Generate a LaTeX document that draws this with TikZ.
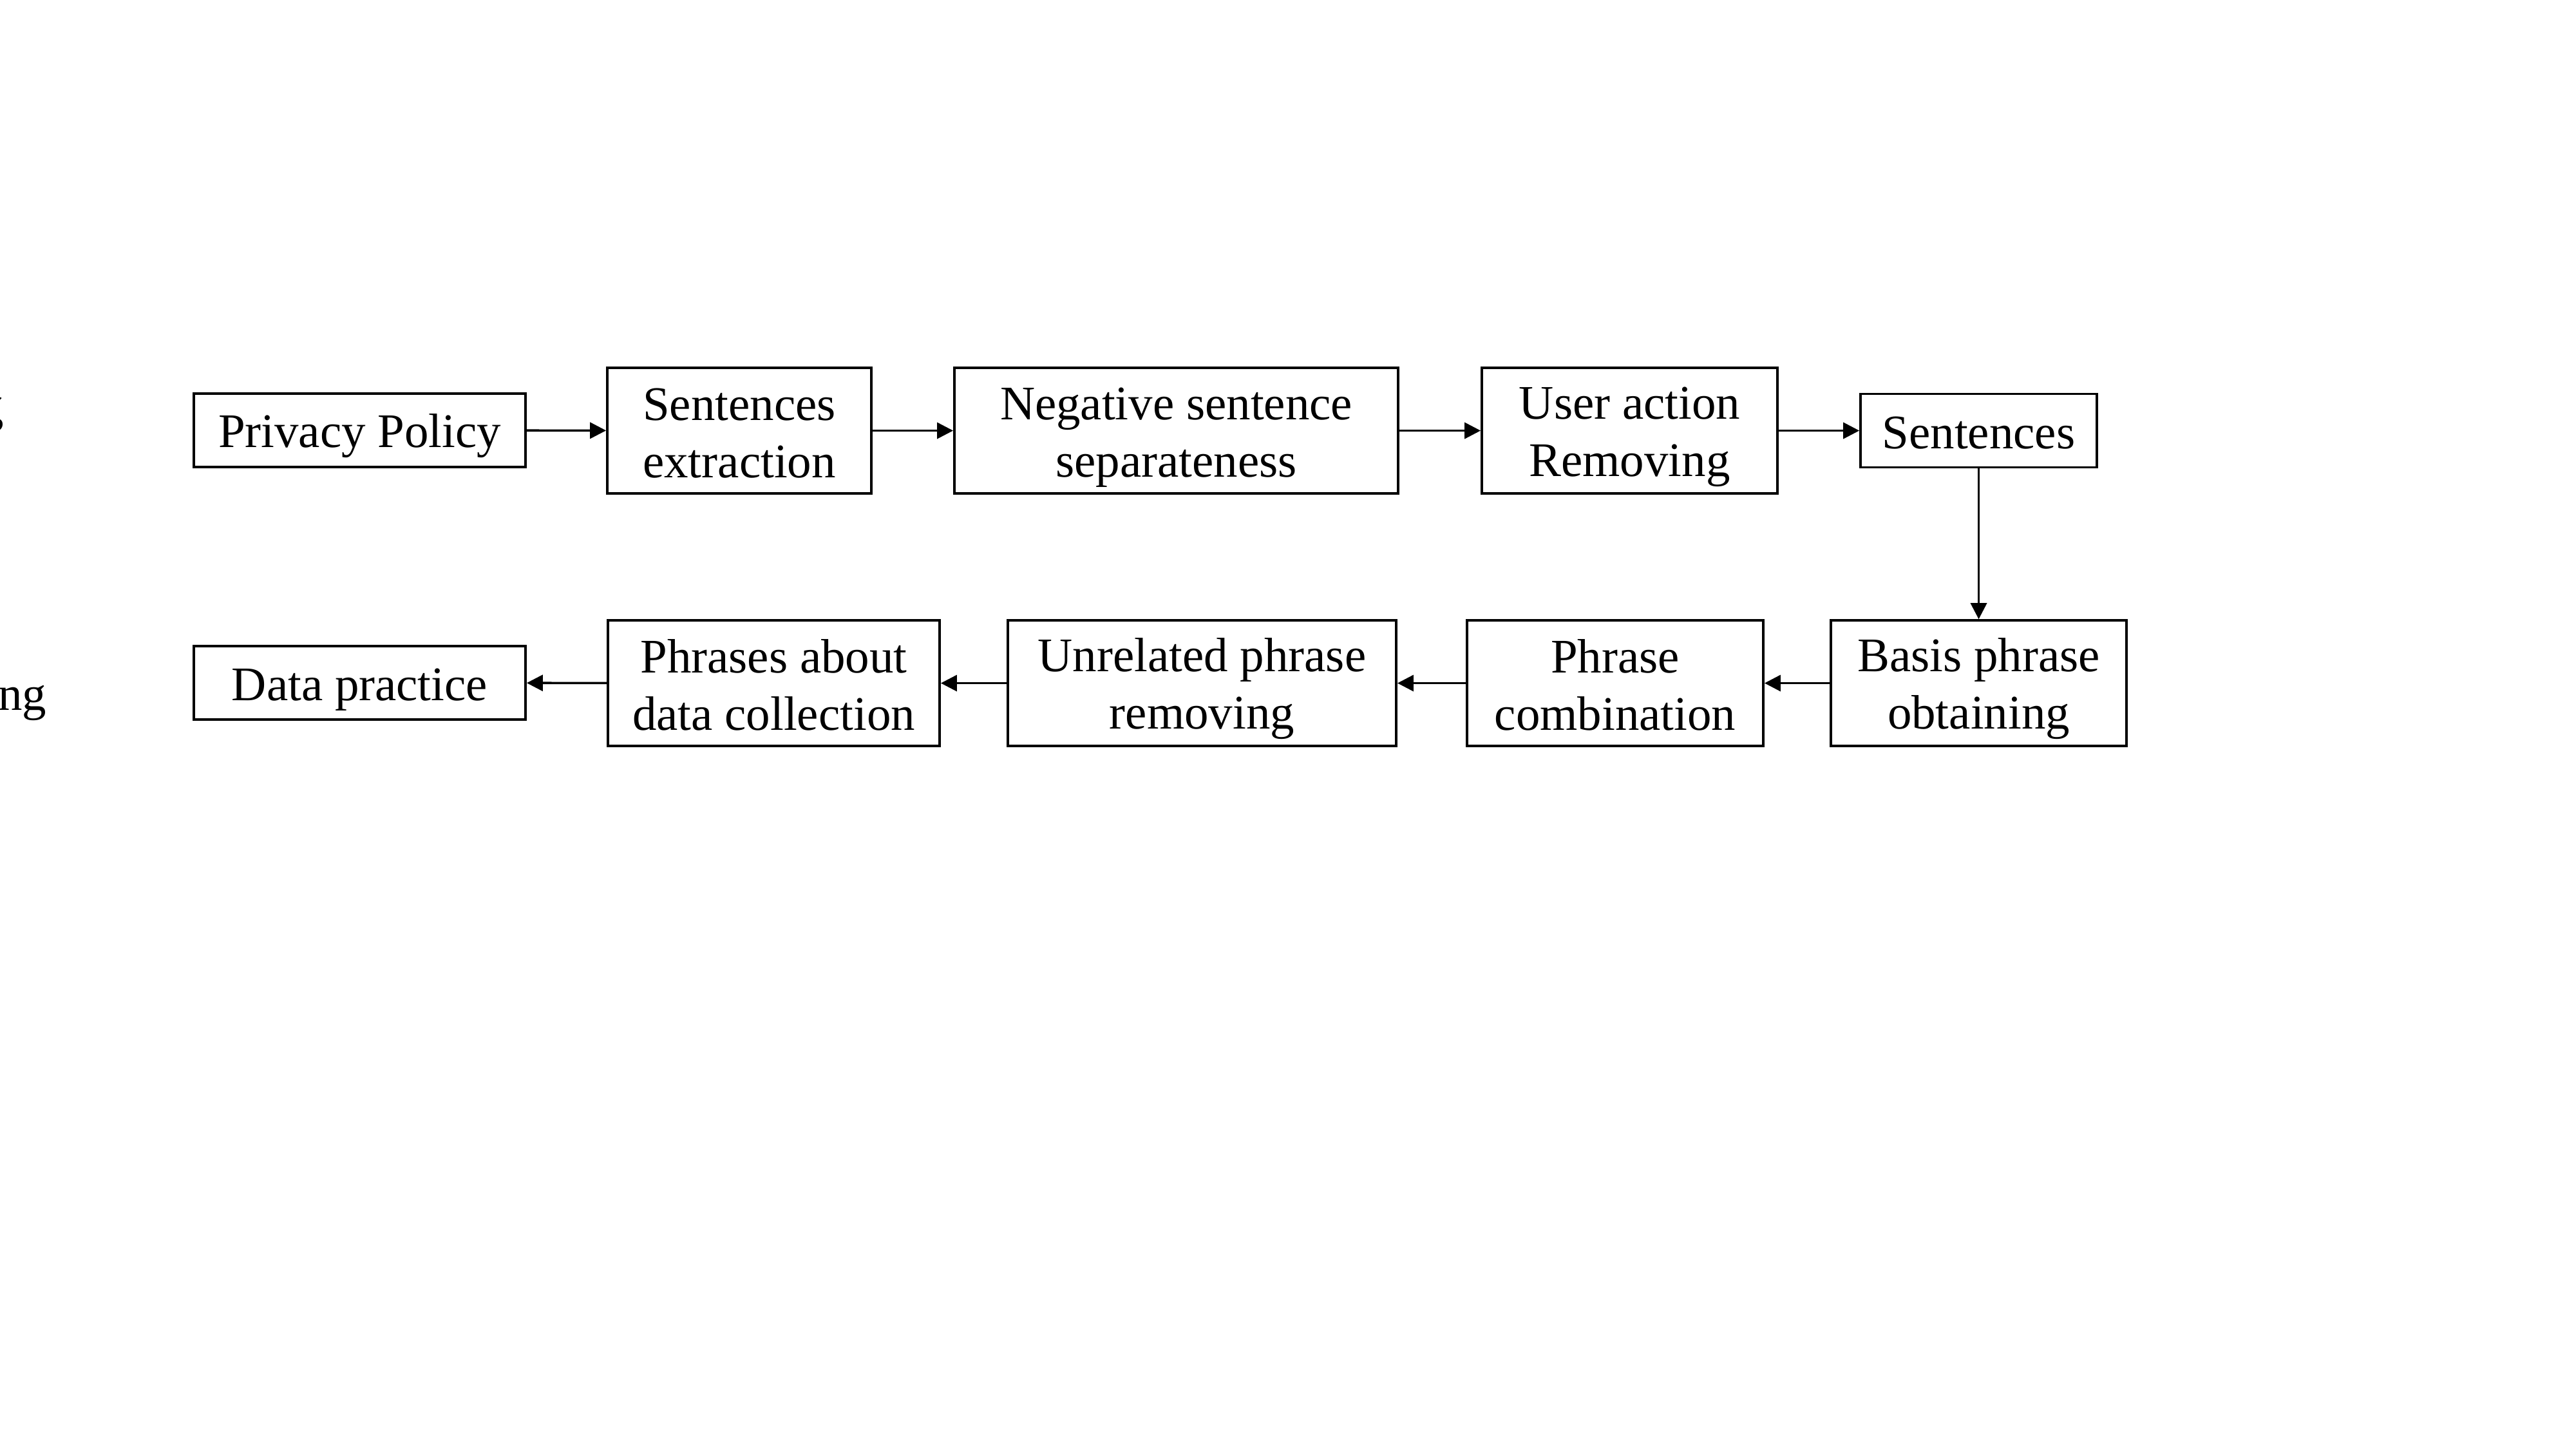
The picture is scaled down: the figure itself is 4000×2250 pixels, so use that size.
\documentclass[tikz,border=0pt]{standalone}
\usepackage{fontspec}
\setmainfont{Liberation Serif}
\usetikzlibrary{arrows.meta}
\newcommand\lnst{\rule[-0.14cm]{0pt}{0.84cm}}
\begin{document}
\begin{tikzpicture}[x=0.01cm,y=-0.01cm,
  box/.style={draw,line width=1pt,inner sep=0pt,align=center,font=\fontsize{21.3pt}{25.3pt}\selectfont},
  tall/.style={minimum height=1.95cm},
  short/.style={minimum height=1.14cm},
  conn/.style={line width=1pt,-{Triangle[length=0.25cm,width=0.25cm]}},
  frag/.style={anchor=base east,inner sep=0pt,font=\fontsize{21.3pt}{25.3pt}\selectfont}]
\clip (0,0) rectangle (4000,2250);
\fill[white] (0,0) rectangle (4000,2250);
% fragments at the left edge
\node[frag] (f1) at (7,655) {g};
\node[frag] (f2) at (73,1102) {ng};
% row 1
\node[box,short,minimum width=5.15cm] (pp) at (558.5,668) {\lnst Privacy Policy};
\node[box,tall,minimum width=4.10cm] (se) at (1148,668.5) {\lnst Sentences\\\lnst extraction};
\node[box,tall,minimum width=6.89cm] (ns) at (1826.5,668.5) {\lnst Negative sentence\\\lnst separateness};
\node[box,tall,minimum width=4.59cm] (ua) at (2530.5,668.5) {\lnst User action\\\lnst Removing};
\node[box,short,minimum width=3.67cm] (s) at (3072.5,668.5) {\lnst Sentences};
% row 2
\node[box,short,minimum width=5.15cm] (dp) at (558.5,1060) {\lnst Data practice};
\node[box,tall,minimum width=5.15cm] (pa) at (1201.5,1060.5) {\lnst Phrases about\\\lnst data collection};
\node[box,tall,minimum width=6.03cm] (ur) at (1866.5,1060.5) {\lnst Unrelated phrase\\\lnst removing};
\node[box,tall,minimum width=4.60cm] (pc) at (2508,1060.5) {\lnst Phrase\\\lnst combination};
\node[box,tall,minimum width=4.59cm] (bp) at (3072.5,1060.5) {\lnst Basis phrase\\\lnst obtaining};
% connectors
\draw[conn] (pp) -- (se);
\draw[conn] (se) -- (ns);
\draw[conn] (ns) -- (ua);
\draw[conn] (ua) -- (s);
\draw[conn] (s) -- (bp);
\draw[conn] (bp) -- (pc);
\draw[conn] (pc) -- (ur);
\draw[conn] (ur) -- (pa);
\draw[conn] (pa) -- (dp);
\end{tikzpicture}
\end{document}
